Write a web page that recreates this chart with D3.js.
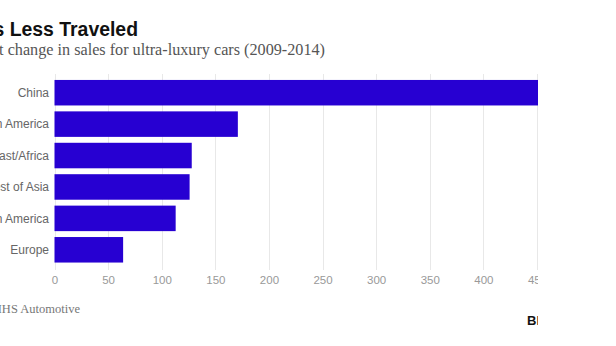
<!DOCTYPE html>
<html lang="en">
<head>
<meta charset="utf-8">
<title>The Roads Less Traveled</title>
<style>
  body { margin: 0; background: #fff; }
  svg { display: block; }
  .grid line { stroke: #e8e8e8; stroke-width: 1px; }
  .axis text { fill: #999; font: 11.5px "Liberation Sans", Arial, sans-serif; }
  .cat { fill: #666; font: 12px "Liberation Sans", Arial, sans-serif; }
</style>
</head>
<body>
<div id="chart"></div>
<script src="https://cdnjs.cloudflare.com/ajax/libs/d3/7.8.5/d3.min.js"></script>
<script>
var regions = ["China", "North America", "Middle East/Africa", "Rest of Asia", "Latin America", "Europe"];
var change = [500, 171, 128, 126, 113, 64];
var ticks = [0, 50, 100, 150, 200, 250, 300, 350, 400, 450, 500];

var width = 616, height = 346;

var svg = d3.select("#chart").append("svg")
    .attr("width", width)
    .attr("height", height);

var data = regions.map(function(r, i) { return {region: r, value: change[i]}; });

var x = d3.scaleLinear().domain([0, 500]).range([54.5, 590.6]);
var y = d3.scaleBand().domain(regions).range([77, 265.5]).paddingInner(0.188).paddingOuter(0.094);

// the picture is cut off on the right
svg.append("clipPath").attr("id", "cut")
  .append("rect").attr("x", 0).attr("y", 0).attr("width", 538).attr("height", height);

var plot = svg.append("g").attr("clip-path", "url(#cut)");

plot.append("g").attr("class", "grid")
  .selectAll("line").data(ticks).enter().append("line")
    .attr("x1", function(d) { return Math.round(x(d)) + 0.5; })
    .attr("x2", function(d) { return Math.round(x(d)) + 0.5; })
    .attr("y1", 74).attr("y2", 270);

plot.append("g").selectAll("rect").data(data).enter().append("rect")
    .attr("x", x(0))
    .attr("y", function(d) { return y(d.region); })
    .attr("width", function(d) { return x(d.value) - x(0); })
    .attr("height", y.bandwidth())
    .attr("fill", "#2700d2");

var xAxis = d3.axisBottom(x).tickValues(ticks).tickSize(0).tickPadding(0);
plot.append("g").attr("class", "axis")
    .attr("transform", "translate(0,276)")
    .call(xAxis)
    .call(function(g) { g.select(".domain").remove(); });

svg.append("g").selectAll("text").data(regions).enter().append("text")
    .attr("class", "cat")
    .attr("x", 49)
    .attr("y", function(d) { return y(d) + y.bandwidth() / 2; })
    .attr("dy", "0.35em")
    .attr("text-anchor", "end")
    .text(function(d) { return d; });

// title block, also cut off on the left
svg.append("text")
    .attr("x", 138).attr("y", 36)
    .attr("text-anchor", "end")
    .style("font", "bold 19.4px 'Liberation Sans', Arial, sans-serif")
    .attr("fill", "#111")
    .text("The Roads Less Traveled");

svg.append("text")
    .attr("x", 325).attr("y", 55)
    .attr("text-anchor", "end")
    .style("font", "16.2px 'Liberation Serif', Georgia, serif")
    .attr("fill", "#555")
    .text("Percent change in sales for ultra-luxury cars (2009-2014)");

svg.append("text")
    .attr("x", 80).attr("y", 313)
    .attr("text-anchor", "end")
    .style("font", "12.5px 'Liberation Serif', Georgia, serif")
    .attr("fill", "#777")
    .text("Source: IHS Automotive");

svg.append("g").attr("clip-path", "url(#cut)")
  .append("text")
    .attr("x", 527).attr("y", 325)
    .style("font", "bold 13px 'Liberation Sans', Arial, sans-serif")
    .attr("fill", "#111")
    .text("Bloomberg");
</script>
</body>
</html>
